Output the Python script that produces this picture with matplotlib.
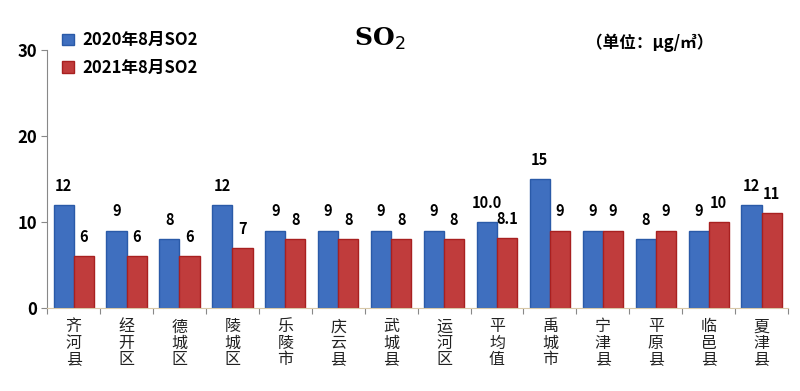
import numpy as np
import matplotlib.pyplot as plt

plt.rcParams['font.family'] = ['Noto Sans CJK SC', 'DejaVu Sans']

categories = ["齐河县", "经开区", "德城区", "陵城区", "乐陵市", "庆云县", "武城县",
              "运河区", "平均值", "禹城市", "宁津县", "平原县", "临邑县", "夏津县"]
so2_2020 = [12, 9, 8, 12, 9, 9, 9, 9, 10.0, 15, 9, 8, 9, 12]
so2_2021 = [6, 6, 6, 7, 8, 8, 8, 8, 8.1, 9, 9, 9, 10, 11]
labels_2020 = ["12", "9", "8", "12", "9", "9", "9", "9", "10.0", "15", "9", "8", "9", "12"]
labels_2021 = ["6", "6", "6", "7", "8", "8", "8", "8", "8.1", "9", "9", "9", "10", "11"]

fig = plt.figure(figsize=(8, 3.91), dpi=100)
ax = fig.add_axes([0.059, 0.2123, 0.926, 0.66])

x = np.arange(len(categories))
w = 0.38
b1 = ax.bar(x - w / 2, so2_2020, w, color="#3f6fbf", edgecolor="#2a5aa8", linewidth=1,
            label="2020年8月SO2")
b2 = ax.bar(x + w / 2, so2_2021, w, color="#c03c3c", edgecolor="#a82020", linewidth=1,
            label="2021年8月SO2")

for rect, t in zip(b1, labels_2020):
    ax.text(rect.get_x() + rect.get_width() / 2, rect.get_height() + 1.3, t,
            ha="center", va="bottom", fontsize=10.5, fontweight="bold")
for rect, t in zip(b2, labels_2021):
    ax.text(rect.get_x() + rect.get_width() / 2, rect.get_height() + 1.3, t,
            ha="center", va="bottom", fontsize=10.5, fontweight="bold")

ax.set_xlim(-0.5, len(categories) - 0.5)
ax.set_ylim(0, 30)
ax.set_yticks([0, 10, 20, 30])
ax.tick_params(axis="y", labelsize=12, colors="#888888", labelcolor="black", length=4)
for lbl in ax.get_yticklabels():
    lbl.set_fontweight("bold")

ax.set_xticks(np.arange(len(categories) + 1) - 0.5, minor=False)
ax.set_xticklabels([])
ax.tick_params(axis="x", length=4, colors="#888888")
for xi, c in zip(x, categories):
    ax.text(xi, -1.2, "\n".join(c), ha="center", va="top", fontsize=11.5,
            linespacing=0.95, color="#222222")

ax.spines["top"].set_visible(False)
ax.spines["right"].set_visible(False)
ax.spines["left"].set_color("#888888")
ax.spines["bottom"].set_color("#d8c8a8")

ax.legend(loc="upper left", bbox_to_anchor=(0.0, 1.13), frameon=False,
          prop={"size": 12, "weight": "bold"},
          handlelength=0.7, handleheight=0.7, handletextpad=0.5, labelspacing=0.55)

fig.text(0.475, 0.9, "SO$_2$", fontsize=18, fontweight="bold", family="DejaVu Serif",
         ha="center", va="center")
fig.text(0.812, 0.89, "（单位：μg/㎥）", fontsize=12, fontweight="bold",
         ha="center", va="center")

fig.savefig("out.png", dpi=100)
